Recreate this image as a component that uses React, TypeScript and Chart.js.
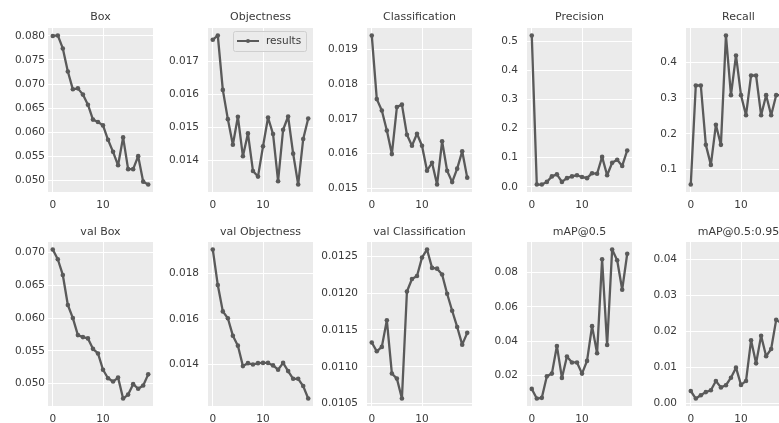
import React, { useEffect, useRef } from 'react';
import { Chart, registerables } from 'chart.js';

Chart.register(...registerables);

// ---- data ----
const epochs = [0, 1, 2, 3, 4, 5, 6, 7, 8, 9, 10, 11, 12, 13, 14, 15, 16, 17, 18, 19];
const xTickLabels = ['0', '10'];
const seriesLabel = 'results';

const boxLoss = [0.0800, 0.0801, 0.0774, 0.0726, 0.0689, 0.0691, 0.0678, 0.0657, 0.0626, 0.0621, 0.0614, 0.0584, 0.0559, 0.0531, 0.0589, 0.0523, 0.0523, 0.0550, 0.0497, 0.0491];
const objLoss = [0.01764, 0.01777, 0.01613, 0.01525, 0.01448, 0.01532, 0.01413, 0.01482, 0.01369, 0.01352, 0.01443, 0.01530, 0.01480, 0.01338, 0.01493, 0.01533, 0.01421, 0.01328, 0.01465, 0.01527];
const clsLoss = [0.01941, 0.01757, 0.01724, 0.01666, 0.01598, 0.01734, 0.01741, 0.01654, 0.01622, 0.01657, 0.01622, 0.01550, 0.01573, 0.01510, 0.01635, 0.01550, 0.01517, 0.01556, 0.01606, 0.01530];
const precision = [0.520, 0.008, 0.008, 0.017, 0.036, 0.043, 0.017, 0.030, 0.036, 0.040, 0.034, 0.030, 0.047, 0.045, 0.103, 0.040, 0.083, 0.093, 0.072, 0.125];
const recall = [0.058, 0.335, 0.335, 0.169, 0.113, 0.225, 0.169, 0.475, 0.308, 0.419, 0.308, 0.252, 0.363, 0.363, 0.252, 0.308, 0.252, 0.308, 0.308, 0.300];
const valBox = [0.0705, 0.0690, 0.0666, 0.0620, 0.0600, 0.0574, 0.0571, 0.0569, 0.0553, 0.0546, 0.0521, 0.0508, 0.0503, 0.0509, 0.0477, 0.0483, 0.0499, 0.0492, 0.0497, 0.0514];
const valObj = [0.01907, 0.01750, 0.01634, 0.01604, 0.01527, 0.01483, 0.01393, 0.01406, 0.01400, 0.01406, 0.01407, 0.01407, 0.01396, 0.01377, 0.01407, 0.01371, 0.01337, 0.01337, 0.01305, 0.01250];
const valCls = [0.01133, 0.01121, 0.01127, 0.01163, 0.01091, 0.01084, 0.01057, 0.01202, 0.01219, 0.01223, 0.01248, 0.01259, 0.01234, 0.01233, 0.01225, 0.01199, 0.01176, 0.01154, 0.01130, 0.01146];
const mAP50 = [0.0123, 0.0067, 0.0071, 0.0196, 0.0212, 0.0373, 0.0187, 0.0311, 0.0277, 0.0277, 0.0212, 0.0286, 0.0488, 0.0330, 0.0877, 0.0378, 0.0934, 0.0871, 0.0700, 0.0909];
const mAP5095 = [0.0034, 0.0013, 0.0022, 0.0031, 0.0036, 0.0062, 0.0044, 0.0050, 0.0071, 0.0099, 0.0051, 0.0062, 0.0175, 0.0111, 0.0188, 0.0131, 0.0151, 0.0232, 0.0223, 0.0428];

const boxTicks = ['0.050', '0.055', '0.060', '0.065', '0.070', '0.075', '0.080'];
const objTicks = ['0.014', '0.015', '0.016', '0.017'];
const clsTicks = ['0.015', '0.016', '0.017', '0.018', '0.019'];
const precisionTicks = ['0.0', '0.1', '0.2', '0.3', '0.4', '0.5'];
const recallTicks = ['0.1', '0.2', '0.3', '0.4'];
const valBoxTicks = ['0.050', '0.055', '0.060', '0.065', '0.070'];
const valObjTicks = ['0.014', '0.016', '0.018'];
const valClsTicks = ['0.0105', '0.0110', '0.0115', '0.0120', '0.0125'];
const mAP50Ticks = ['0.02', '0.04', '0.06', '0.08'];
const mAP5095Ticks = ['0.00', '0.01', '0.02', '0.03', '0.04'];

const titles = ['Box', 'Objectness', 'Classification', 'Precision', 'Recall', 'val Box', 'val Objectness', 'val Classification', 'mAP@0.5', 'mAP@0.5:0.95'];
const seriesList = [boxLoss, objLoss, clsLoss, precision, recall, valBox, valObj, valCls, mAP50, mAP5095];
const tickList = [boxTicks, objTicks, clsTicks, precisionTicks, recallTicks, valBoxTicks, valObjTicks, valClsTicks, mAP50Ticks, mAP5095Ticks];

// ---- style ----
const FONT = 'DejaVu Sans';
const TEXT = '#3a3a3a';
const LINE = '#5a5a5a';
const PLOT_BG = '#ebebeb';
const CANVAS_W = 160;
const CANVAS_H = 214;
const COL_STEP = 159.6;
const Y_AXIS_W = 48;
const PLOT_W = 105;
const TITLE_SPACE = 28;

const bgPlugin = {
  id: 'plotBg',
  beforeDraw(chart: any) {
    const a = chart.chartArea;
    const ctx = chart.ctx;
    ctx.save();
    ctx.fillStyle = PLOT_BG;
    ctx.fillRect(a.left, a.top, a.right - a.left, a.bottom - a.top);
    ctx.restore();
  },
};

const titlePlugin = {
  id: 'axesTitle',
  afterDraw(chart: any, _args: any, opts: any) {
    const a = chart.chartArea;
    const ctx = chart.ctx;
    ctx.save();
    ctx.fillStyle = TEXT;
    ctx.font = `11px "${FONT}"`;
    ctx.textAlign = 'center';
    ctx.textBaseline = 'middle';
    ctx.fillText(opts.text, (a.left + a.right) / 2, opts.y);
    ctx.restore();
  },
};

const legendPlugin = {
  id: 'insideLegend',
  afterDraw(chart: any) {
    const a = chart.chartArea;
    const ctx = chart.ctx;
    const x0 = a.left + 25;
    const x1 = a.right - 7;
    const y0 = a.top + 3;
    const y1 = a.top + 23;
    const cy = (y0 + y1) / 2;
    ctx.save();
    ctx.fillStyle = 'rgba(235,235,235,0.85)';
    ctx.strokeStyle = '#cfcfcf';
    ctx.lineWidth = 1;
    ctx.beginPath();
    ctx.roundRect(x0 + 0.5, y0 + 0.5, x1 - x0, y1 - y0, 2);
    ctx.fill();
    ctx.stroke();
    ctx.strokeStyle = LINE;
    ctx.lineWidth = 2;
    ctx.beginPath();
    ctx.moveTo(x0 + 4, cy);
    ctx.lineTo(x0 + 26, cy);
    ctx.stroke();
    ctx.fillStyle = LINE;
    ctx.beginPath();
    ctx.arc(x0 + 15, cy, 2, 0, Math.PI * 2);
    ctx.fill();
    ctx.fillStyle = TEXT;
    ctx.font = `10.5px "${FONT}"`;
    ctx.textBaseline = 'middle';
    ctx.textAlign = 'left';
    ctx.fillText(chart.data.datasets[0].label, x0 + 33, cy + 0.5);
    ctx.restore();
  },
};

function Panel({ index }: { index: number }) {
  const ref = useRef<HTMLCanvasElement>(null);
  const col = index % 5;
  const row = Math.floor(index / 5);
  const left = Math.round(col * COL_STEP);
  const top = row * CANVAS_H;

  useEffect(() => {
    const vals = seriesList[index];
    const lo = Math.min(...vals);
    const hi = Math.max(...vals);
    const pad = (hi - lo) * 0.05;
    const xlo = Math.min(...epochs);
    const xhi = Math.max(...epochs);
    const xpad = (xhi - xlo) * 0.05;
    const yLabels = tickList[index];
    const yVals = yLabels.map((s) => parseFloat(s));
    const xVals = xTickLabels.map((s) => parseFloat(s));

    const plugins: any[] = [bgPlugin, titlePlugin];
    if (index === 1) plugins.push(legendPlugin);

    const chart = new Chart(ref.current as HTMLCanvasElement, {
      type: 'line',
      data: {
        datasets: [
          {
            label: seriesLabel,
            data: epochs.map((e, i) => ({ x: e, y: vals[i] })),
            borderColor: LINE,
            backgroundColor: LINE,
            borderWidth: 2.3,
            borderJoinStyle: 'round',
            borderCapStyle: 'round',
            pointRadius: 2.3,
            pointHoverRadius: 2.3,
            pointBorderWidth: 0,
            tension: 0,
          },
        ],
      },
      options: {
        animation: false,
        responsive: false,
        events: [],
        layout: { padding: { left: 0, right: CANVAS_W - Y_AXIS_W - PLOT_W, top: TITLE_SPACE, bottom: 0 } },
        plugins: {
          legend: { display: false },
          tooltip: { enabled: false },
          title: { display: false },
          axesTitle: { text: titles[index], y: row === 0 ? 17 : 18.5 },
        },
        scales: {
          x: {
            type: 'linear',
            min: xlo - xpad,
            max: xhi + xpad,
            bounds: 'data',
            afterBuildTicks: (axis: any) => {
              axis.ticks = xVals.map((v) => ({ value: v }));
            },
            afterFit: (axis: any) => {
              axis.height = 22;
            },
            grid: { color: '#ffffff', lineWidth: 1, drawTicks: false },
            border: { display: false },
            ticks: {
              autoSkip: false,
              maxRotation: 0,
              padding: 7,
              color: TEXT,
              font: { family: FONT, size: 10.5 },
              callback: (v: any) => xTickLabels[xVals.indexOf(Number(v))] ?? '',
            },
          },
          y: {
            type: 'linear',
            min: lo - pad,
            max: hi + pad,
            bounds: 'data',
            afterBuildTicks: (axis: any) => {
              axis.ticks = yVals.map((v) => ({ value: v }));
            },
            afterFit: (axis: any) => {
              axis.width = Y_AXIS_W;
            },
            grid: { color: '#ffffff', lineWidth: 1, drawTicks: false },
            border: { display: false },
            ticks: {
              autoSkip: false,
              padding: col === 0 ? 3 : 9,
              color: TEXT,
              font: { family: FONT, size: 10.5 },
              callback: (v: any) => yLabels[yVals.indexOf(Number(v))] ?? '',
            },
          },
        },
      } as any,
      plugins,
    });
    return () => chart.destroy();
  }, [index]);

  return (
    <canvas
      ref={ref}
      width={CANVAS_W}
      height={CANVAS_H}
      style={{ position: 'absolute', left, top, width: CANVAS_W, height: CANVAS_H, display: 'block' }}
    />
  );
}

export default function App() {
  return (
    <div
      style={{
        position: 'fixed',
        left: 0,
        top: 0,
        width: 779,
        height: 423,
        overflow: 'hidden',
        background: '#ffffff',
      }}
    >
      {titles.map((_, i) => (
        <Panel key={i} index={i} />
      ))}
    </div>
  );
}
